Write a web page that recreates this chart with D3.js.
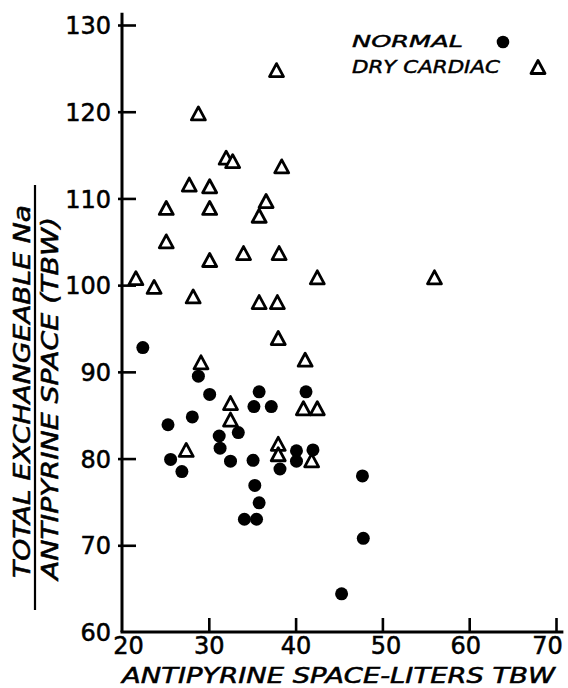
<!DOCTYPE html>
<html>
<head>
<meta charset="utf-8">
<script src="https://cdn.jsdelivr.net/npm/d3@7"></script>
<style>
  html, body { margin: 0; padding: 0; background: #fff; }
  svg { display: block; }
  text { font-family: "DejaVu Sans", sans-serif; fill: #000; }
</style>
</head>
<body>
<svg id="chart" width="568" height="688"></svg>
<script>
// ---- data ----
const xTicks = [20, 30, 40, 50, 60, 70];
const yTicks = [60, 70, 80, 90, 100, 110, 120, 130];

const normalX = [22.4, 28.8, 30.1, 35.8, 41.2, 35.2, 37.2, 25.3, 28.1, 33.4, 31.2, 31.3, 25.6, 26.9,
                 32.5, 35.1, 38.2, 40.1, 40.1, 42.0, 35.3, 35.8, 34.1, 35.5, 47.7, 47.8, 45.3];
const normalY = [92.8, 89.5, 87.4, 87.7, 87.7, 86.0, 86.0, 83.9, 84.8, 83.0, 82.6, 81.2, 79.9, 78.5,
                 79.7, 79.8, 78.8, 80.9, 79.7, 81.0, 76.9, 74.9, 73.0, 73.0, 78.0, 70.8, 64.4];

const cardiacX = [37.8, 28.8, 32.0, 32.75, 38.4, 27.75, 30.1, 25.1, 30.1, 36.6, 35.8, 25.1, 30.1, 34.0,
                  38.1, 21.6, 23.7, 28.2, 42.5, 56.0, 35.8, 37.9, 38.0, 41.1, 29.1, 32.5, 32.5, 40.9,
                  42.5, 27.4, 38.0, 38.0, 41.85];
const cardiacY = [124.8, 119.8, 114.7, 114.3, 113.7, 111.6, 111.4, 108.9, 108.9, 109.7, 108.0, 105.05, 102.9, 103.7,
                  103.7, 100.8, 99.8, 98.7, 100.9, 100.9, 98.05, 98.05, 93.9, 91.4, 91.1, 86.4, 84.5, 85.8,
                  85.8, 81.0, 81.7, 80.5, 79.8];

const legendLabels = ["NORMAL", "DRY CARDIAC"];
const xTitle = "ANTIPYRINE SPACE-LITERS TBW";
const yTitleTop = "TOTAL EXCHANGEABLE Na";
const yTitleBottom = "ANTIPYRINE SPACE (TBW)";

// ---- drawing ----
const svg = d3.select("#chart");
const x = d3.scaleLinear().domain([20, 70]).range([122, 556]);
const y = d3.scaleLinear().domain([60, 130]).range([632, 25]);

const triPath = "M0,-6.5L7,6.5L-7,6.5Z";
const inkStroke = 0.55;

// axis lines
svg.append("line")
  .attr("x1", x(20)).attr("x2", x(20))
  .attr("y1", y(60)).attr("y2", y(131.4))
  .attr("stroke", "#000").attr("stroke-width", 3);
svg.append("line")
  .attr("x1", x(20) - 1.5).attr("x2", x(70.85))
  .attr("y1", y(60)).attr("y2", y(60))
  .attr("stroke", "#000").attr("stroke-width", 3);

// y axis
const yAxis = d3.axisLeft(y).tickValues(yTicks).tickFormat(d3.format("d"))
  .tickSizeInner(-14).tickSizeOuter(0).tickPadding(11);
const gy = svg.append("g").attr("transform", `translate(${x(20)},0)`).call(yAxis);
gy.select(".domain").remove();
gy.selectAll(".tick line").attr("stroke", "#000").attr("stroke-width", 2.6)
  .attr("x1", -4);
gy.selectAll(".tick text").attr("font-size", 24).attr("font-family", "DejaVu Sans")
  .attr("fill", "#000").attr("stroke", "#000").attr("stroke-width", inkStroke)
  .attr("dy", "0.36em");
gy.selectAll(".tick").filter(d => d === 60).select("line").remove();

// x axis
const xLabelShift = { 20: 6, 50: 3, 60: -4, 70: -9 };
const xAxis = d3.axisBottom(x).tickValues(xTicks).tickFormat(d3.format("d"))
  .tickSizeInner(-14).tickSizeOuter(0).tickPadding(5);
const gx = svg.append("g").attr("transform", `translate(0,${y(60)})`).call(xAxis);
gx.select(".domain").remove();
gx.selectAll(".tick line").attr("stroke", "#000").attr("stroke-width", 2.6);
gx.selectAll(".tick text").attr("font-size", 24).attr("font-family", "DejaVu Sans")
  .attr("fill", "#000").attr("stroke", "#000").attr("stroke-width", inkStroke)
  .attr("dy", "0.72em")
  .attr("dx", d => xLabelShift[d] || 0);
gx.selectAll(".tick").filter(d => d === 20).select("line").remove();

// x title
svg.append("text")
  .attr("x", 122).attr("y", 682.5)
  .attr("font-size", 22).attr("font-style", "oblique")
  .attr("stroke", "#000").attr("stroke-width", inkStroke)
  .attr("textLength", 433).attr("lengthAdjust", "spacingAndGlyphs")
  .text(xTitle);

// y title (fraction)
const yt = svg.append("g");
yt.append("text")
  .attr("transform", "translate(30,578) rotate(-90)")
  .attr("font-size", 23).attr("font-style", "oblique")
  .attr("stroke", "#000").attr("stroke-width", inkStroke)
  .attr("textLength", 373).attr("lengthAdjust", "spacingAndGlyphs")
  .text(yTitleTop);
yt.append("line")
  .attr("x1", 35).attr("x2", 35).attr("y1", 185).attr("y2", 610)
  .attr("stroke", "#000").attr("stroke-width", 2.2);
yt.append("text")
  .attr("transform", "translate(58,580) rotate(-90)")
  .attr("font-size", 23).attr("font-style", "oblique")
  .attr("stroke", "#000").attr("stroke-width", inkStroke)
  .attr("textLength", 363).attr("lengthAdjust", "spacingAndGlyphs")
  .text(yTitleBottom);

// legend
svg.append("text").attr("x", 352).attr("y", 47)
  .attr("font-size", 16.5).attr("font-style", "oblique")
  .attr("stroke", "#000").attr("stroke-width", 0.45)
  .attr("textLength", 111).attr("lengthAdjust", "spacingAndGlyphs")
  .text(legendLabels[0]);
svg.append("text").attr("x", 352).attr("y", 73)
  .attr("font-size", 17.5).attr("font-style", "oblique")
  .attr("stroke", "#000").attr("stroke-width", 0.45)
  .attr("textLength", 148).attr("lengthAdjust", "spacingAndGlyphs")
  .text(legendLabels[1]);
svg.append("circle").attr("cx", 503).attr("cy", 42).attr("r", 6.3).attr("fill", "#000");
svg.append("path").attr("d", triPath).attr("transform", "translate(538,67)")
  .attr("fill", "#fff").attr("stroke", "#000").attr("stroke-width", 2.8)
  .attr("stroke-linejoin", "round");

// points
const normal = normalX.map((v, i) => ({ x: v, y: normalY[i] }));
const cardiac = cardiacX.map((v, i) => ({ x: v, y: cardiacY[i] }));

svg.append("g").selectAll("path").data(cardiac).join("path")
  .attr("d", triPath)
  .attr("transform", d => `translate(${x(d.x)},${y(d.y)})`)
  .attr("fill", "#fff").attr("stroke", "#000").attr("stroke-width", 2.8)
  .attr("stroke-linejoin", "round");

svg.append("g").selectAll("circle").data(normal).join("circle")
  .attr("cx", d => x(d.x)).attr("cy", d => y(d.y)).attr("r", 6.5)
  .attr("fill", "#000");
</script>
</body>
</html>
